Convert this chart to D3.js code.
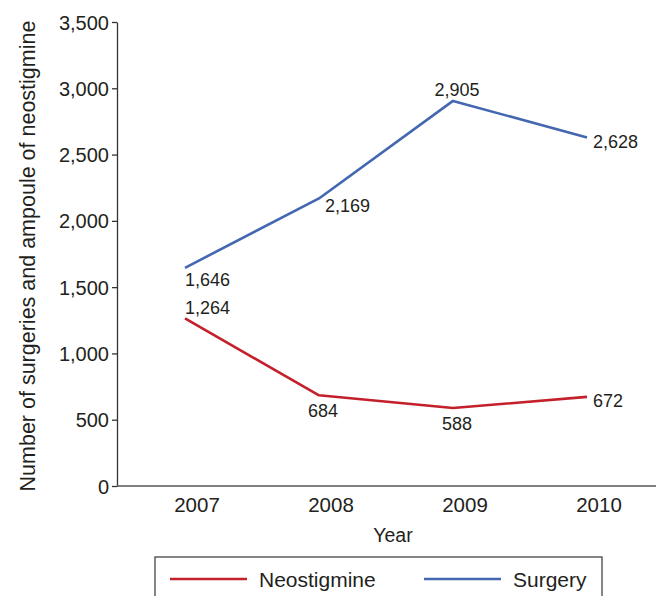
<!DOCTYPE html>
<html>
<head>
<meta charset="utf-8">
<script src="https://cdn.jsdelivr.net/npm/d3@7"></script>
<style>
  body { margin: 0; background: #fff; }
  svg text { font-family: "Liberation Sans", Arial, sans-serif; fill: #231f20; }
</style>
</head>
<body>
<div id="chart"></div>
<script>
// data
var years = [2007, 2008, 2009, 2010];
var surgery = [1646, 2169, 2905, 2628];
var neostigmine = [1264, 684, 588, 672];
var yTicks = [0, 500, 1000, 1500, 2000, 2500, 3000, 3500];
// where each value label sits relative to its point
var surgeryLabelPos = ["below", "belowRight", "above", "right"];
var neoLabelPos = ["aboveStart", "under", "under", "right"];

var series = [
    {name: "Neostigmine", values: neostigmine, color: "#c4202b", labels: neoLabelPos},
    {name: "Surgery", values: surgery, color: "#4467b1", labels: surgeryLabelPos}
];

var width = 656, height = 596;
var svg = d3.select("#chart").append("svg")
    .attr("width", width)
    .attr("height", height);

// scales
var x = d3.scaleLinear().domain([2007, 2010]).range([185, 587]);
var y = d3.scaleLinear().domain([0, 3500]).range([486, 22]);
var axisLeftX = 117;

// y axis
var yAxis = d3.axisLeft(y)
    .tickValues(yTicks)
    .tickFormat(d3.format(","))
    .tickSize(5)
    .tickSizeOuter(0)
    .tickPadding(3);

var gy = svg.append("g")
    .attr("transform", "translate(" + axisLeftX + ",0)")
    .call(yAxis);
gy.select(".domain").attr("stroke", "#333").attr("stroke-width", 1.3);
gy.selectAll(".tick line").attr("stroke", "#333").attr("stroke-width", 1.3);
gy.selectAll(".tick text")
    .style("font-size", "20px")
    .attr("dy", "0.35em");

// x axis baseline, runs to the right edge
svg.append("line")
    .attr("x1", axisLeftX)
    .attr("x2", width)
    .attr("y1", y(0))
    .attr("y2", y(0))
    .attr("stroke", "#555")
    .attr("stroke-width", 1.5);

// x tick labels
svg.append("g")
    .selectAll("text")
    .data(years)
    .enter().append("text")
    .attr("x", function (d) { return x(d) + 12; })
    .attr("y", y(0) + 26)
    .attr("text-anchor", "middle")
    .style("font-size", "20.5px")
    .text(function (d) { return d; });

// axis titles
svg.append("text")
    .attr("x", 393)
    .attr("y", 542)
    .attr("text-anchor", "middle")
    .style("font-size", "19.5px")
    .text("Year");

svg.append("text")
    .attr("transform", "translate(35," + ((y(0) + y(3500)) / 2 + 2) + ") rotate(-90)")
    .attr("text-anchor", "middle")
    .style("font-size", "21.5px")
    .text("Number of surgeries and ampoule of neostigmine");

// lines
var line = d3.line()
    .x(function (d, i) { return x(years[i]); })
    .y(function (d) { return y(d); });

svg.selectAll(".series")
    .data(series)
    .enter().append("path")
    .attr("class", "series")
    .attr("fill", "none")
    .attr("stroke", function (d) { return d.color; })
    .attr("stroke-width", 2.6)
    .attr("stroke-linejoin", "round")
    .attr("d", function (d) { return line(d.values); });

// value labels
var place = {
    below: {anchor: "start", dx: 0, dy: 18},
    belowRight: {anchor: "start", dx: 6, dy: 14},
    above: {anchor: "middle", dx: 4, dy: -5},
    right: {anchor: "start", dx: 6, dy: 10},
    aboveStart: {anchor: "start", dx: 0, dy: -4},
    under: {anchor: "middle", dx: 4, dy: 22}
};
var fmt = d3.format(",");

series.forEach(function (s) {
    svg.append("g")
        .selectAll("text")
        .data(s.values)
        .enter().append("text")
        .attr("x", function (d, i) { return x(years[i]) + place[s.labels[i]].dx; })
        .attr("y", function (d, i) { return y(d) + place[s.labels[i]].dy; })
        .attr("text-anchor", function (d, i) { return place[s.labels[i]].anchor; })
        .style("font-size", "18px")
        .text(function (d) { return fmt(d); });
});

// legend
var legend = svg.append("g");
legend.append("rect")
    .attr("x", 155)
    .attr("y", 557)
    .attr("width", 447)
    .attr("height", 60)
    .attr("fill", "none")
    .attr("stroke", "#444")
    .attr("stroke-width", 1.3);

var legendX = d3.scalePoint().domain(series.map(function (d) { return d.name; })).range([170, 424]);

var li = legend.selectAll(".li")
    .data(series)
    .enter().append("g")
    .attr("class", "li")
    .attr("transform", function (d) { return "translate(" + legendX(d.name) + ",579)"; });
li.append("line")
    .attr("x1", 0)
    .attr("x2", 77)
    .attr("stroke", function (d) { return d.color; })
    .attr("stroke-width", 2.6);
li.append("text")
    .attr("x", 89)
    .attr("y", 8)
    .style("font-size", "21px")
    .text(function (d) { return d.name; });
</script>
</body>
</html>
